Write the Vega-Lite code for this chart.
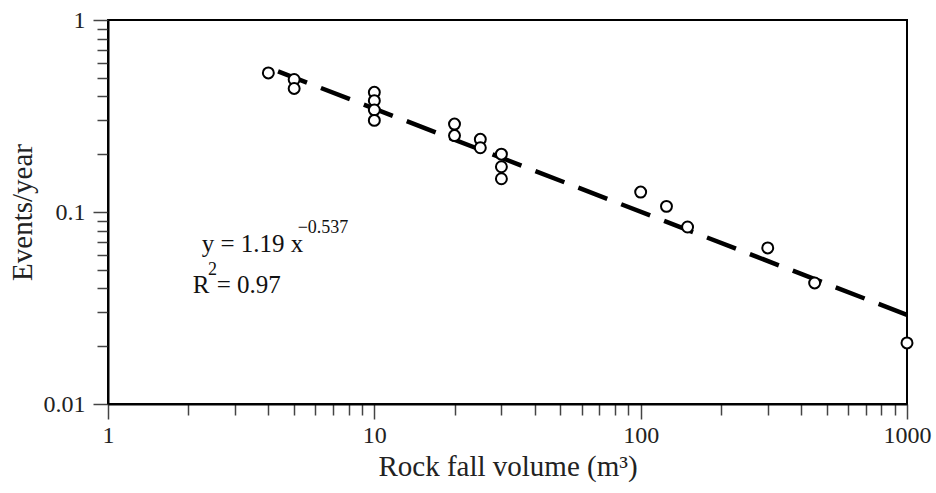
{
  "$schema": "https://vega.github.io/schema/vega-lite/v6.json",
  "width": 799,
  "height": 384,
  "autosize": {"type": "none"},
  "padding": {"left": 108, "top": 20, "right": 29, "bottom": 89},
  "background": "white",
  "config": {
    "font": "Liberation Serif, DejaVu Serif, serif",
    "view": {"stroke": "black", "strokeWidth": 2},
    "axis": {
      "grid": false,
      "domainColor": "black",
      "domainWidth": 2,
      "labelFont": "Liberation Serif, DejaVu Serif, serif",
      "labelFontSize": 24,
      "labelColor": "#222",
      "titleFont": "Liberation Serif, DejaVu Serif, serif",
      "titleFontSize": 29,
      "titleFontWeight": "normal",
      "titleColor": "#222",
      "tickColor": "#444",
      "tickWidth": 1.5
    }
  },
  "datasets": {
    "obs": [
      {"volume": 4, "rate": 0.53},
      {"volume": 5, "rate": 0.49},
      {"volume": 5, "rate": 0.44},
      {"volume": 10, "rate": 0.42},
      {"volume": 10, "rate": 0.38},
      {"volume": 10, "rate": 0.34},
      {"volume": 10, "rate": 0.30},
      {"volume": 20, "rate": 0.287},
      {"volume": 20, "rate": 0.25},
      {"volume": 25, "rate": 0.239},
      {"volume": 25, "rate": 0.216},
      {"volume": 30, "rate": 0.20},
      {"volume": 30, "rate": 0.172},
      {"volume": 30, "rate": 0.149},
      {"volume": 100, "rate": 0.127},
      {"volume": 125, "rate": 0.107},
      {"volume": 150, "rate": 0.0835},
      {"volume": 300, "rate": 0.065},
      {"volume": 450, "rate": 0.0427},
      {"volume": 1000, "rate": 0.0208}
    ],
    "fit": [
      {"volume": 4.35, "rate": 0.540},
      {"volume": 1000, "rate": 0.0291}
    ],
    "notes": [
      {"volume": 2.248, "rate": 0.0619, "txt": "y = 1.19 x", "kind": "main"},
      {"volume": 5.156, "rate": 0.0777, "txt": "−0.537", "kind": "sup"},
      {"volume": 2.080, "rate": 0.03773, "txt": "R", "kind": "main"},
      {"volume": 2.374, "rate": 0.0472, "txt": "2", "kind": "sup"},
      {"volume": 2.559, "rate": 0.03773, "txt": "= 0.97", "kind": "main"}
    ]
  },
  "layer": [
    {
      "data": {"name": "fit"},
      "mark": {"type": "line", "color": "black", "strokeWidth": 4.5, "strokeDash": [31, 15], "clip": true},
      "encoding": {
        "x": {
          "field": "volume", "type": "quantitative",
          "scale": {"type": "log", "domain": [1, 1000], "nice": false},
          "axis": {
            "title": "Rock fall volume (m³)",
            "values": [1,2,3,4,5,6,7,8,9,10,20,30,40,50,60,70,80,90,100,200,300,400,500,600,700,800,900,1000],
            "labelExpr": "datum.value == 1 ? '1' : datum.value == 10 ? '10' : datum.value == 100 ? '100' : datum.value == 1000 ? '1000' : ''",
            "tickSize": {"condition": {"test": "indexof([1,10,100,1000], datum.value) >= 0", "value": 15}, "value": 11},
            "labelPadding": 4,
            "titlePadding": 5,
            "labelFlush": false,
            "labelOverlap": false
          }
        },
        "y": {
          "field": "rate", "type": "quantitative",
          "scale": {"type": "log", "domain": [0.01, 1], "nice": false},
          "axis": {
            "title": "Events/year",
            "values": [0.01,0.02,0.03,0.04,0.05,0.06,0.07,0.08,0.09,0.1,0.2,0.3,0.4,0.5,0.6,0.7,0.8,0.9,1],
            "labelExpr": "datum.value == 1 ? '1' : datum.value == 0.1 ? '0.1' : datum.value == 0.01 ? '0.01' : ''",
            "tickSize": {"condition": {"test": "indexof([0.01,0.1,1], datum.value) >= 0", "value": 15}, "value": 11},
            "labelPadding": 8,
            "titlePadding": 6,
            "labelFlush": false,
            "labelOverlap": false
          }
        }
      }
    },
    {
      "data": {"name": "obs"},
      "mark": {"type": "point", "shape": "circle", "filled": false, "fill": "white", "fillOpacity": 1, "stroke": "black", "strokeWidth": 2, "size": 120, "opacity": 1},
      "encoding": {
        "x": {"field": "volume", "type": "quantitative"},
        "y": {"field": "rate", "type": "quantitative"}
      }
    },
    {
      "data": {"name": "notes"},
      "mark": {"type": "text", "align": "left", "baseline": "alphabetic", "color": "#111", "font": "Liberation Serif, DejaVu Serif, serif"},
      "encoding": {
        "x": {"field": "volume", "type": "quantitative"},
        "y": {"field": "rate", "type": "quantitative"},
        "text": {"field": "txt"},
        "size": {"field": "kind", "type": "nominal", "scale": {"domain": ["main", "sup"], "range": [25, 18]}, "legend": null}
      }
    }
  ]
}
